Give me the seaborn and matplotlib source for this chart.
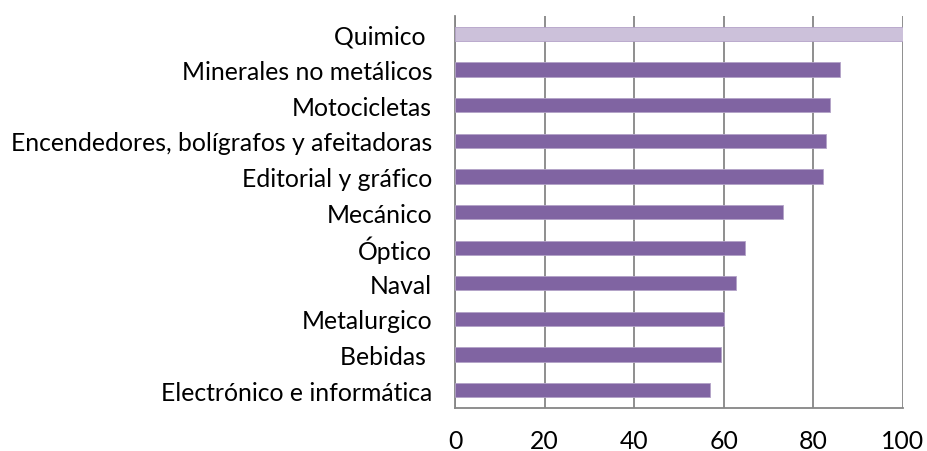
import numpy as np
import pandas as pd
import matplotlib
matplotlib.use("Agg")
import matplotlib.pyplot as plt
import seaborn as sns

sectors = [
    "Quimico ",
    "Minerales no metálicos",
    "Motocicletas",
    "Encendedores, bolígrafos y afeitadoras",
    "Editorial y gráfico",
    "Mecánico",
    "Óptico",
    "Naval",
    "Metalurgico",
    "Bebidas ",
    "Electrónico e informática",
]
values = [100, 85.9, 83.8, 82.9, 82.1, 73.2, 64.7, 62.8, 60.1, 59.4, 57.0]
highlight = ["top"] + ["rest"] * 10
x_ticks = [0, 20, 40, 60, 80, 100]

df = pd.DataFrame({"Sector": sectors, "Valor": values, "Grupo": highlight})

sns.set_style("white")
plt.rcParams["font.family"] = ["Lato", "DejaVu Sans"]

fig = plt.figure(figsize=(9.27, 4.52), dpi=100)
ax = fig.add_axes([0.491, 0.095, 0.483, 0.867])

sns.barplot(data=df, x="Valor", y="Sector", hue="Grupo", orient="h",
            palette={"top": "#CCC1DA", "rest": "#8064A2"}, width=0.4,
            saturation=1, dodge=False, legend=False, edgecolor="#B3A2C7",
            linewidth=0.6, ax=ax, zorder=3)

ax.set_xlim(0, 100)
ax.set_ylim(10.5, -0.5)
ax.set_xticks(x_ticks)
ax.set_xlabel("")
ax.set_ylabel("")
ax.grid(axis="x", color="#868686", linewidth=1.3, zorder=0)
ax.set_axisbelow(True)

for side in ["top", "right"]:
    ax.spines[side].set_visible(False)
for side in ["left", "bottom"]:
    ax.spines[side].set_color("#868686")
    ax.spines[side].set_linewidth(1.3)

ax.set_yticks(np.arange(-0.5, 11, 1), minor=True)
ax.tick_params(axis="y", which="major", length=0, pad=16.5, labelsize=17.8, colors="black")
ax.tick_params(axis="y", which="minor", length=6, width=1.3, color="#868686", direction="out")
ax.tick_params(axis="x", length=6, width=1.3, color="#868686", direction="out",
               labelsize=17.8, pad=9, labelcolor="black")

fig.savefig("out.png", dpi=100)
